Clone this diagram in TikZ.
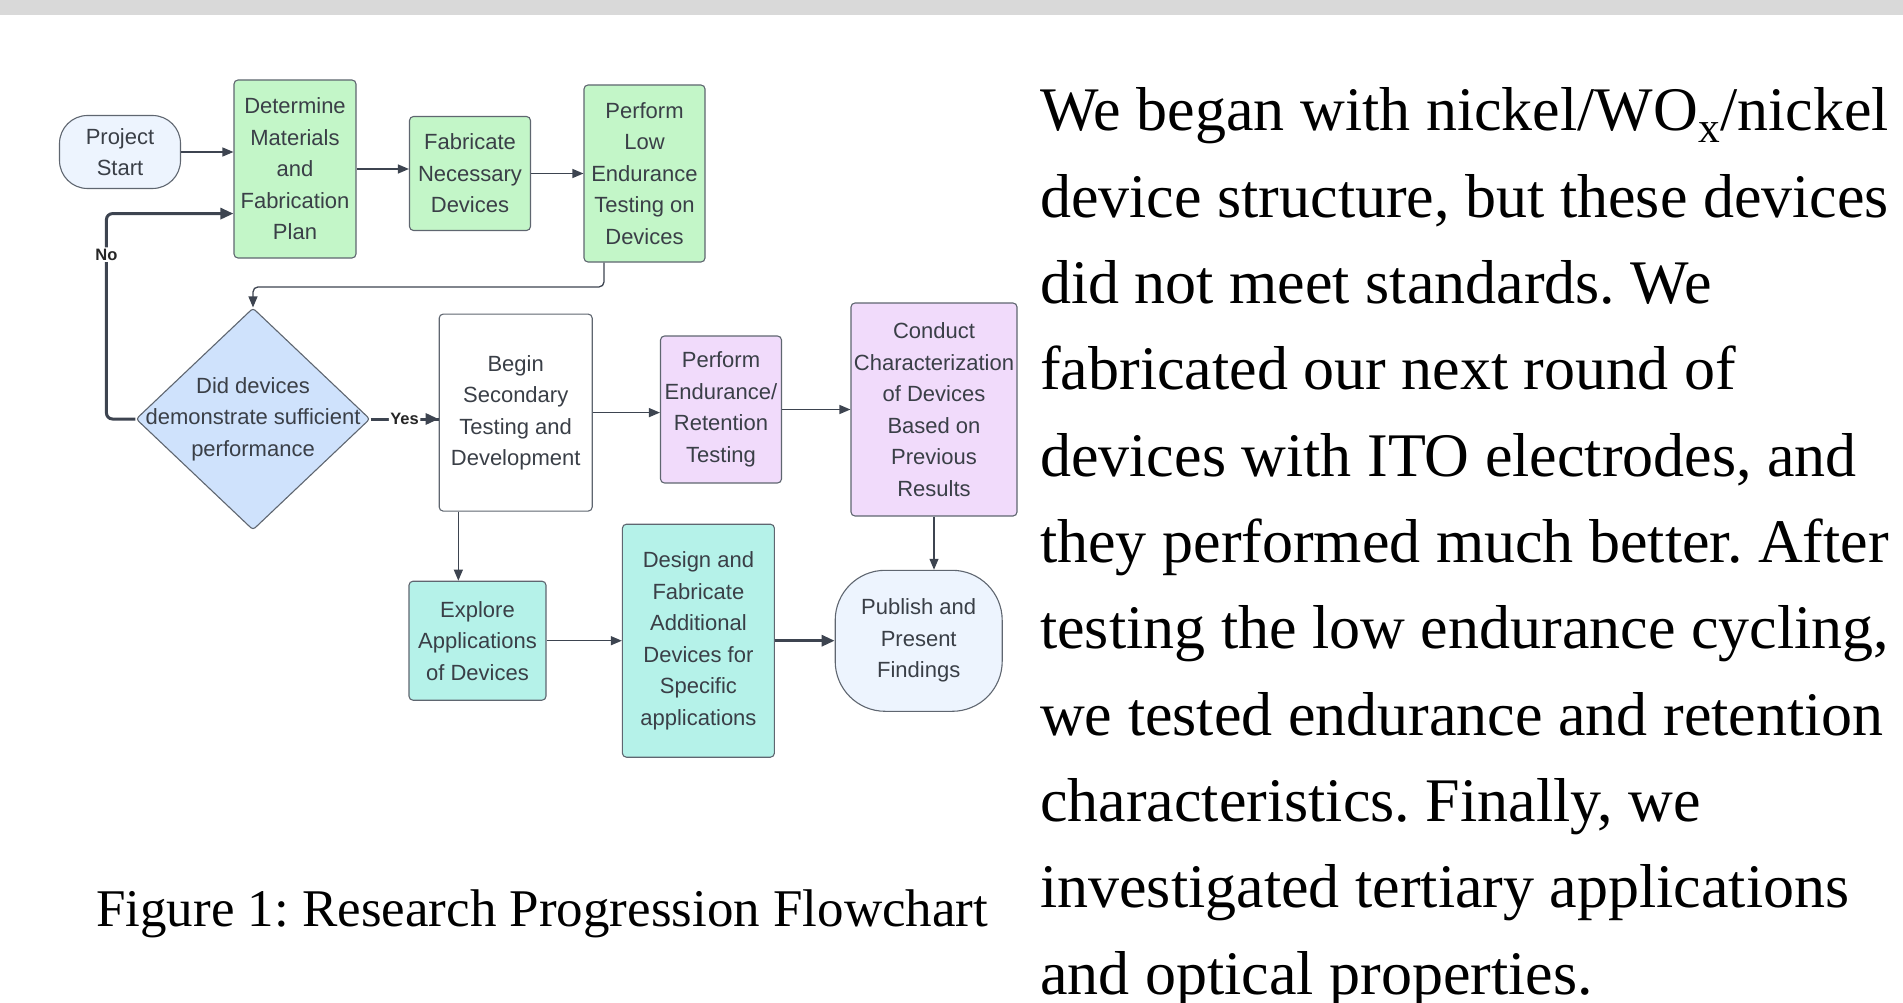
\documentclass[tikz,border=0pt]{standalone}
\usepackage{fontspec}
\setmainfont{Liberation Serif}
\newfontfamily\flowfont{Liberation Sans}
\usetikzlibrary{shapes.geometric,arrows.meta,calc}
\definecolor{bandc}{HTML}{D9D9D9}
\definecolor{bordc}{HTML}{5F6670}
\definecolor{linec}{HTML}{3D4450}
\definecolor{txtc}{HTML}{3A3F47}
\definecolor{startc}{HTML}{EDF4FE}
\definecolor{greenc}{HTML}{C3F6C8}
\definecolor{pinkc}{HTML}{F1DBFB}
\definecolor{tealc}{HTML}{B5F2E9}
\definecolor{diac}{HTML}{CFE2FC}
\frenchspacing
\begin{document}
\begin{tikzpicture}[x=1pt,y=-1pt,
  box/.style={draw=bordc, line width=1.1pt, rounded corners=4pt, align=center,
    font=\flowfont\fontsize{22}{31.5}\selectfont, text=txtc, inner sep=2pt},
  arr/.style={draw=linec, line width=1.3pt, -{Triangle[length=11pt,width=9pt]}, rounded corners=5pt},
  heavyarr/.style={draw=linec, line width=3pt, -{Triangle[length=13pt,width=11pt]}, rounded corners=6pt},
  lbl/.style={fill=white, inner sep=1.5pt, text=black!85, font=\flowfont\bfseries\fontsize{16.5}{16.5}\selectfont},
  body/.style={anchor=base west, inner sep=0pt, font=\fontsize{62}{70}\selectfont},
]
\useasboundingbox (0,0) rectangle (1903,1003);
\fill[bandc] (0,0) rectangle (1903,15);

% nodes
\node[box, fill=startc, rounded corners=28pt, minimum width=121, minimum height=73] (proj) at (120,152) {Project\\Start};
\node[box, fill=greenc, minimum width=122, minimum height=178] (det) at (295,169) {Determine\\Materials\\and\\Fabrication\\Plan};
\node[box, fill=greenc, minimum width=121, minimum height=114] (fab) at (470,173.5) {Fabricate\\Necessary\\Devices};
\node[box, fill=greenc, minimum width=121, minimum height=177] (perf) at (644.5,173.5) {Perform\\Low\\Endurance\\Testing on\\Devices};
\node[diamond, draw=bordc, line width=1.1pt, fill=diac, inner sep=0pt, minimum width=234, minimum height=222, rounded corners=3pt] (dia) at (253,419) {};
\node[align=center, font=\flowfont\fontsize{22}{31.5}\selectfont, text=txtc, inner sep=0pt] (diatext) at (dia.center) {Did devices\\demonstrate sufficient\\performance};
\node[box, fill=white, minimum width=153, minimum height=197] (begin) at (515.7,412.6) {Begin\\Secondary\\Testing and\\Development};
\node[box, fill=pinkc, minimum width=121, minimum height=147] (endu) at (721,409.5) {Perform\\Endurance/\\Retention\\Testing};
\node[box, fill=pinkc, minimum width=166, minimum height=213] (cond) at (934,409.5) {Conduct\\Characterization\\of Devices\\Based on\\Previous\\Results};
\node[box, fill=tealc, minimum width=137, minimum height=119] (expl) at (477.5,640.7) {Explore\\Applications\\of Devices};
\node[box, fill=tealc, minimum width=152, minimum height=233] (des) at (698.4,640.7) {Design and\\Fabricate\\Additional\\Devices for\\Specific\\applications};
\node[box, fill=startc, rounded corners=50pt, minimum width=167, minimum height=141] (pub) at (918.7,640.8) {Publish and\\Present\\Findings};

% connectors
\draw[arr] (proj.east) -- (det.west |- proj.east);
\draw[arr] (det.east) -- (fab.west |- det.east);
\draw[arr] (fab.east) -- (perf.west |- fab.east);
\draw[arr] (perf.south) ++(-40.5,0) coordinate (pd) -- ++(0,24.4) -| (dia.north);
\draw[heavyarr] (dia.west) -- ++(-29,0) |- node[pos=0.4, lbl] {No} ($(det.west)+(0,44.6)$);
\draw[heavyarr, -] (dia.east) -- node[lbl, pos=0.5] (yes) {Yes} (begin.west |- dia.east);
\draw[heavyarr] (yes.east) -- (begin.west |- dia.east);
\draw[arr] (begin.east) -- (endu.west |- begin.east);
\draw[arr] (endu.east) -- (cond.west |- endu.east);
\draw[arr] (cond.south) -- (cond.south |- pub.north);
\draw[arr] (begin.south west) ++(19.7,0) coordinate (bd) -- (bd |- expl.north);
\draw[arr] (expl.east) -- (des.west |- expl.east);
\draw[heavyarr] (des.east) -- (pub.west |- des.east);

% caption
\node[anchor=base west, inner sep=0pt, font=\fontsize{53}{60}\selectfont] (cap) at (96,926) {Figure 1: Research Progression Flowchart};

% body text
\node[body] (t1) at (1040,131) {We began with nickel/WO\textsubscript{x}/nickel};
\node[body] (t2) at (1040,217.3) {device structure, but these devices};
\node[body] (t3) at (1040,303.6) {did not meet standards. We};
\node[body] (t4) at (1040,389.9) {fabricated our next round of};
\node[body] (t5) at (1040,476.2) {devices with ITO electrodes, and};
\node[body] (t6) at (1040,562.5) {they performed much better. After};
\node[body] (t7) at (1040,648.8) {testing the low endurance cycling,};
\node[body] (t8) at (1040,735.1) {we tested endurance and retention};
\node[body] (t9) at (1040,821.4) {characteristics. Finally, we};
\node[body] (t10) at (1040,907.7) {investigated tertiary applications};
\node[body] (t11) at (1040,994) {and optical properties.};
\end{tikzpicture}
\end{document}
